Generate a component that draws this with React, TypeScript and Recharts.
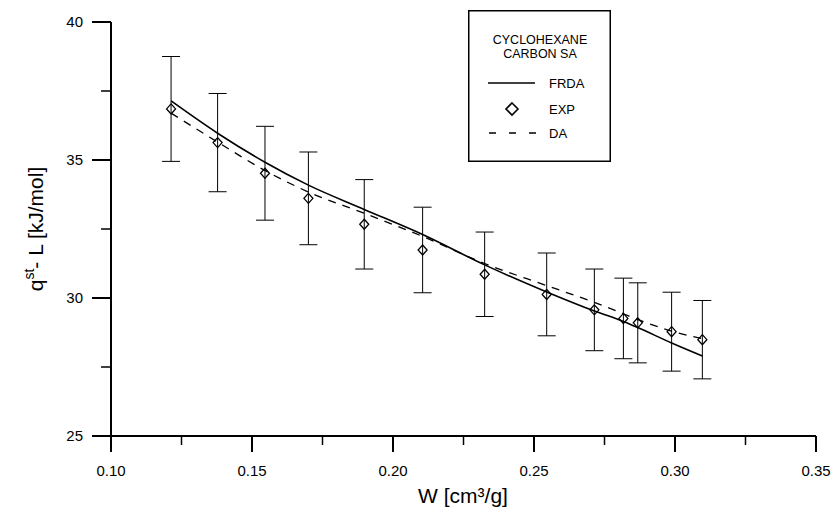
import {
  ComposedChart,
  ErrorBar,
  Label,
  Legend,
  Line,
  Scatter,
  XAxis,
  YAxis,
} from "recharts";

// pore volume filled, W [cm3/g]
const W = [0.1213, 0.1378, 0.1546, 0.17, 0.1898, 0.2105, 0.2325, 0.2545, 0.2714, 0.2817, 0.2868, 0.2988, 0.3097];
// experimental isosteric heat minus L, with error bars
const EXP = [36.85, 35.63, 34.52, 33.61, 32.67, 31.74, 30.86, 30.13, 29.57, 29.26, 29.1, 28.78, 28.49];
const EXP_ERR = [1.9, 1.78, 1.7, 1.68, 1.62, 1.55, 1.53, 1.5, 1.48, 1.46, 1.45, 1.43, 1.42];
// model curves
const FRDA = [37.14, 35.97, 34.92, 34.09, 33.21, 32.3, 31.2, 30.22, 29.53, 29.15, 28.93, 28.37, 27.9];
const DA = [36.7, 35.65, 34.62, 33.84, 33.07, 32.23, 31.25, 30.45, 29.84, 29.43, 29.22, 28.8, 28.53];

const X_MAJOR = [0.1, 0.15, 0.2, 0.25, 0.3, 0.35];
const X_MINOR = [0.125, 0.175, 0.225, 0.275, 0.325];
const Y_MAJOR = [25, 30, 35, 40];
const Y_MINOR = [27.5, 32.5, 37.5];

const data = W.map((w, i) => ({
  w,
  exp: EXP[i],
  err: EXP_ERR[i],
  frda: FRDA[i],
  da: DA[i],
}));

const isMajor = (list: number[], v: number) => list.some((m) => Math.abs(m - v) < 1e-6);

function XTick({ x, y, payload }: any) {
  const major = isMajor(X_MAJOR, payload.value);
  return (
    <g>
      <line x1={x} x2={x} y1={y} y2={y + (major ? 16 : 9)} stroke="#000" strokeWidth={major ? 2 : 1.5} />
      {major && (
        <text x={x} y={y + 40} textAnchor="middle" fontSize={15} fill="#000">
          {payload.value.toFixed(2)}
        </text>
      )}
    </g>
  );
}

function YTick({ x, y, payload }: any) {
  const major = isMajor(Y_MAJOR, payload.value);
  return (
    <g>
      <line x1={x - (major ? 19 : 10)} x2={x} y1={y} y2={y} stroke="#000" strokeWidth={major ? 2 : 1.5} />
      {major && (
        <text x={x - 28} y={y + 5.4} textAnchor="end" fontSize={15} fill="#000">
          {payload.value}
        </text>
      )}
    </g>
  );
}

function Diamond({ cx, cy }: any) {
  if (cx == null || cy == null) return null;
  return (
    <polygon
      points={`${cx},${cy - 5} ${cx + 4.5},${cy} ${cx},${cy + 5} ${cx - 4.5},${cy}`}
      fill="none"
      stroke="#000"
      strokeWidth={1.3}
    />
  );
}

function LegendBox() {
  return (
    <svg width={143} height={152} style={{ display: "block" }}>
      <rect x={0.75} y={0.75} width={141.5} height={150.5} fill="#fff" stroke="#000" strokeWidth={1.5} />
      <text x={72} y={34} textAnchor="middle" fontSize={12.5} fill="#000">CYCLOHEXANE</text>
      <text x={72} y={47.5} textAnchor="middle" fontSize={12.5} fill="#000">CARBON SA</text>
      <line x1={20} x2={67} y1={73} y2={73} stroke="#000" strokeWidth={1.3} />
      <text x={81} y={77.7} fontSize={13} fill="#000">FRDA</text>
      <polygon points="44,93 50,99 44,105 38,99" fill="none" stroke="#000" strokeWidth={1.6} />
      <text x={81} y={103.7} fontSize={13} fill="#000">EXP</text>
      <line x1={21} x2={68} y1={123} y2={123} stroke="#000" strokeWidth={1.3} strokeDasharray="7 13" />
      <text x={81} y={127.7} fontSize={13} fill="#000">DA</text>
    </svg>
  );
}

function YTitle() {
  return (
    <text transform="translate(43, 229) rotate(-90)" textAnchor="middle" fontSize={21} fill="#000">
      <tspan>q</tspan>
      <tspan dy={-9} fontSize={14}>st</tspan>
      <tspan dy={9}>- L [kJ/mol]</tspan>
    </text>
  );
}

function XTitle() {
  return (
    <text x={463} y={503} textAnchor="middle" fontSize={21} fill="#000">
      W [cm³/g]
    </text>
  );
}

export default function App() {
  return (
    <div
      style={{
        position: "absolute",
        left: 0,
        top: 0,
        width: 834,
        height: 508,
        background: "#fff",
        fontFamily: '"Liberation Sans", Arial, sans-serif',
      }}
    >
      <ComposedChart width={834} height={508} data={data} margin={{ top: 22, right: 18, left: 0, bottom: 0 }}>
        <XAxis
          dataKey="w"
          type="number"
          domain={[0.1, 0.35]}
          ticks={[...X_MAJOR, ...X_MINOR].sort((a, b) => a - b)}
          interval={0}
          height={72}
          tickSize={0}
          tickMargin={0}
          tickLine={false}
          axisLine={{ stroke: "#000", strokeWidth: 2 }}
          tick={<XTick />}
        >
          <Label content={<XTitle />} />
        </XAxis>
        <YAxis
          type="number"
          domain={[25, 40]}
          ticks={[...Y_MAJOR, ...Y_MINOR].sort((a, b) => a - b)}
          interval={0}
          width={111}
          tickSize={0}
          tickMargin={0}
          tickLine={false}
          allowDataOverflow
          axisLine={{ stroke: "#000", strokeWidth: 2 }}
          tick={<YTick />}
        >
          <Label content={<YTitle />} />
        </YAxis>
        <Legend
          layout="vertical"
          align="center"
          verticalAlign="middle"
          content={() => <LegendBox />}
          wrapperStyle={{ left: 468, top: 10, width: 143, height: 152 }}
        />
        <Line
          dataKey="frda"
          type="monotone"
          stroke="#000"
          strokeWidth={1.6}
          dot={false}
          activeDot={false}
          isAnimationActive={false}
        />
        <Line
          dataKey="da"
          type="monotone"
          stroke="#000"
          strokeWidth={1.3}
          strokeDasharray="8 7"
          dot={false}
          activeDot={false}
          isAnimationActive={false}
        />
        <Scatter dataKey="exp" shape={<Diamond />} isAnimationActive={false}>
          <ErrorBar dataKey="err" direction="y" width={9} stroke="#000" strokeWidth={1} isAnimationActive={false} />
        </Scatter>
      </ComposedChart>
    </div>
  );
}
